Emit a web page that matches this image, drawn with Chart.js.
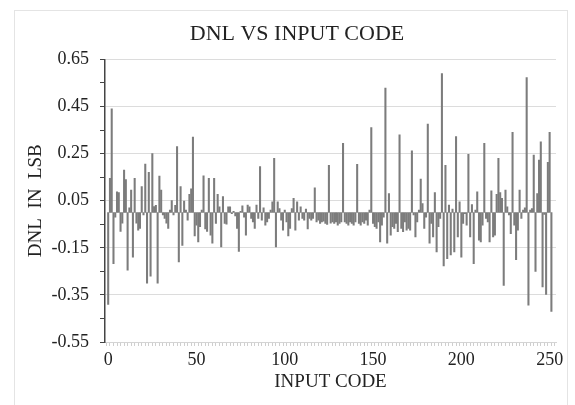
<!DOCTYPE html>
<html>
<head>
<meta charset="utf-8">
<script src="https://cdn.jsdelivr.net/npm/chart.js@4/dist/chart.umd.min.js"></script>
<style>
  body { margin: 0; background: #fff; }
  #frame { position: absolute; left: 14px; top: 10px; width: 552px; height: 400px; border: 1px solid #e4e4e4; }
  #wrap { position: absolute; left: 0; top: 0; width: 575px; height: 405px; }
</style>
</head>
<body>
<div id="frame"></div>
<div id="wrap"><canvas id="myChart" width="575" height="405"></canvas></div>
<script>
// DNL per input code (LSB)
const dnl = [
  -0.39, 0.145, 0.44, -0.217, -0.02, 0.088, 0.085, -0.08, -0.045, 0.18,
  0.14, -0.245, 0.02, 0.095, -0.19, 0.145, -0.045, -0.075, -0.068, 0.11,
  -0.01, 0.205, -0.30, 0.17, -0.27, 0.25, 0.025, 0.03, -0.30, 0.155,
  0.095, -0.01, -0.025, -0.045, -0.068, 0.01, 0.05, -0.01, 0.03, 0.28,
  -0.21, 0.11, -0.14, 0.048, 0.01, -0.033, 0.077, 0.10, 0.32, -0.10,
  -0.054, -0.125, -0.06, 0.01, 0.156, -0.07, -0.08, 0.145, -0.096, -0.13,
  0.145, -0.047, 0.077, 0.024, -0.146, 0.067, -0.047, -0.05, 0.024, 0.024,
  -0.005, 0.005, -0.015, -0.068, -0.165, 0.005, 0.028, -0.02, -0.096, 0.031,
  0.024, -0.025, -0.04, -0.068, 0.031, -0.025, 0.195, -0.033, 0.02, -0.054,
  -0.04, -0.025, 0.01, 0.045, 0.23, -0.146, 0.045, 0.017, -0.033, -0.075,
  0.01, -0.04, -0.10, -0.068, 0.017, 0.06, -0.075, 0.045, -0.033, 0.024,
  -0.025, -0.033, 0.014, -0.07, -0.025, -0.033, -0.025, 0.105, -0.04, -0.033,
  -0.047, -0.04, -0.037, -0.047, -0.051, 0.20, -0.045, -0.04, -0.047, -0.04,
  -0.054, -0.047, -0.04, 0.294, -0.04, -0.047, -0.054, -0.04, -0.047, -0.054,
  -0.04, 0.204, -0.047, -0.054, -0.04, -0.047, -0.033, -0.054, 0.01, 0.36,
  -0.047, -0.06, -0.068, -0.04, -0.125, -0.054, -0.02, 0.528, -0.13, 0.08,
  -0.096, -0.06, -0.068, -0.047, -0.082, 0.33, -0.068, -0.082, -0.04, -0.075,
  -0.068, -0.075, 0.262, -0.01, -0.104, -0.04, 0.01, 0.142, 0.038, -0.068,
  -0.02, 0.375, -0.13, -0.047, -0.104, 0.084, -0.167, -0.06, -0.025, 0.59,
  -0.227, 0.20, -0.196, 0.031, -0.18, 0.014, -0.167, 0.322, -0.104, 0.045,
  -0.19, -0.047, -0.005, -0.054, 0.247, -0.104, 0.034, -0.217, 0.01, 0.088,
  -0.118, -0.125, -0.054, 0.294, -0.025, -0.04, -0.125, 0.092, -0.104, -0.096,
  0.077, 0.23, 0.085, 0.06, -0.31, 0.095, 0.024, -0.01, -0.09, 0.34,
  -0.054, -0.2, -0.075, 0.095, -0.025, 0.01, 0.02, 0.573, -0.394, 0.01,
  0.017, 0.244, -0.25, 0.08, 0.223, 0.30, -0.316, -0.008, -0.348, 0.213,
  0.34, -0.42
];
const xTickLabels = [0, 50, 100, 150, 200, 250];
const yTickLabels = [0.65, 0.45, 0.25, 0.05, -0.15, -0.35, -0.55];
const yMinorTicks = [0.55, 0.35, 0.15, -0.05, -0.25, -0.45];

const serif = "'Liberation Serif', 'Times New Roman', serif";
const points = dnl.map((v, i) => ({ x: i, y: v }));

function isLabelled(v) {
  return yTickLabels.some(t => Math.abs(t - v) < 1e-6);
}

const ctx = document.getElementById('myChart').getContext('2d');
new Chart(ctx, {
  type: 'bar',
  data: {
    datasets: [{
      data: points,
      backgroundColor: '#7c7c7c',
      borderWidth: 0,
      barThickness: 1.4
    }]
  },
  options: {
    responsive: false,
    animation: false,
    // left padding pulls the title centre over towards the plot like the original
    layout: { padding: { left: 38, right: 19, top: 0, bottom: 0 } },
    plugins: {
      legend: { display: false },
      tooltip: { enabled: false },
      title: {
        display: true,
        text: 'DNL VS INPUT CODE',
        color: '#222',
        font: { family: serif, size: 22, weight: 'normal' },
        padding: { top: 21, bottom: 12 }
      }
    },
    scales: {
      x: {
        type: 'linear',
        min: -0.8,
        max: 252.6,
        afterFit: function (scale) { scale.height = 63; },
        afterBuildTicks: function (scale) {
          const t = [];
          for (let v = 0; v <= 252; v += 2) t.push({ value: v });
          scale.ticks = t;
        },
        ticks: {
          autoSkip: false,
          maxRotation: 0,
          color: '#222',
          padding: 3,
          font: { family: serif, size: 18 },
          callback: v => (xTickLabels.includes(v) ? String(v) : '')
        },
        grid: { drawOnChartArea: false, color: '#cfcfcf', tickLength: 4 },
        border: { color: '#d4d4d4' },
        title: {
          display: true,
          text: 'INPUT CODE',
          color: '#222',
          font: { family: serif, size: 19 },
          padding: { top: 0, bottom: 12 }
        }
      },
      y: {
        min: -0.55,
        max: 0.65,
        afterFit: function (scale) { scale.width = 67; },
        afterBuildTicks: function (scale) {
          scale.ticks = yTickLabels.concat(yMinorTicks)
            .sort((a, b) => a - b)
            .map(v => ({ value: v }));
        },
        ticks: {
          autoSkip: false,
          color: '#222',
          padding: 11,
          font: { family: serif, size: 18 },
          callback: v => (isLabelled(v) ? v.toFixed(2) : '')
        },
        grid: {
          color: c => (isLabelled(c.tick.value) ? '#dcdcdc' : 'rgba(0,0,0,0)'),
          tickColor: '#444',
          tickLength: 5
        },
        border: { color: '#444', width: 1.5 },
        title: {
          display: true,
          text: 'DNL  IN  LSB',
          color: '#222',
          font: { family: serif, size: 19 },
          padding: { top: -13.4, bottom: 0 }
        }
      }
    }
  }
});
</script>
</body>
</html>
